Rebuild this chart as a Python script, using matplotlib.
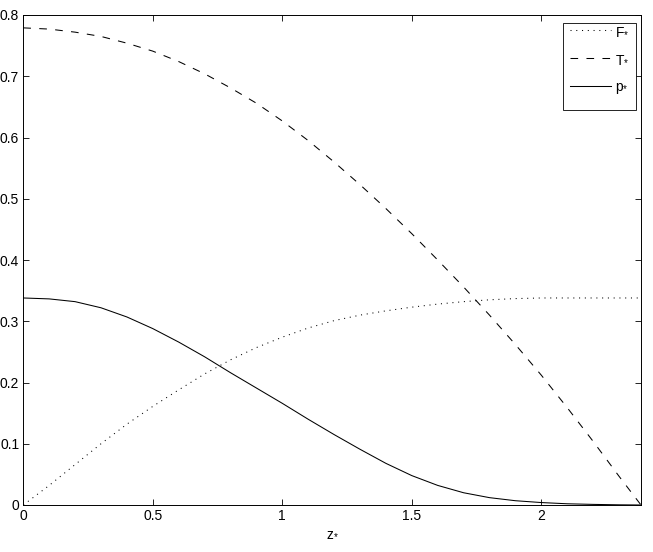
import matplotlib
matplotlib.use("Agg")
import matplotlib.pyplot as plt
from matplotlib.patches import Rectangle

plt.rcParams['font.family'] = ['Liberation Sans', 'DejaVu Sans']
plt.rcParams['mathtext.fontset'] = 'custom'
plt.rcParams['mathtext.rm'] = 'Liberation Sans'
plt.rcParams['mathtext.it'] = 'Liberation Sans'
plt.rcParams['lines.scale_dashes'] = False

z = [0.0, 0.1, 0.2, 0.3, 0.4, 0.5, 0.6, 0.7, 0.8, 0.9, 1.0, 1.1, 1.2, 1.3, 1.4,
     1.5, 1.6, 1.7, 1.8, 1.9, 2.0, 2.1, 2.2, 2.3, 2.385]
F = [0.0, 0.032, 0.066, 0.100, 0.132, 0.161, 0.188, 0.214, 0.237, 0.257, 0.274,
     0.289, 0.301, 0.310, 0.317, 0.323, 0.328, 0.332, 0.335, 0.337, 0.338, 0.338,
     0.338, 0.338, 0.338]
T = [0.779, 0.777, 0.772, 0.765, 0.754, 0.741, 0.724, 0.704, 0.681, 0.656, 0.627,
     0.595, 0.560, 0.523, 0.484, 0.443, 0.400, 0.356, 0.310, 0.262, 0.212, 0.159,
     0.104, 0.047, 0.0]
p = [0.338, 0.3365, 0.332, 0.322, 0.307, 0.288, 0.266, 0.242, 0.216, 0.191, 0.166,
     0.140, 0.115, 0.091, 0.068, 0.048, 0.032, 0.020, 0.012, 0.007, 0.004, 0.002,
     0.001, 0.0003, 0.0]

labels = ['F$_{*}$', 'T$_{*}$', 'p$_{*}$']
xticks = [0, 0.5, 1, 1.5, 2]
xticklabels = ['0', '0.5', '1', '1.5', '2']
yticks = [0, 0.1, 0.2, 0.3, 0.4, 0.5, 0.6, 0.7, 0.8]
yticklabels = ['0', '0.1', '0.2', '0.3', '0.4', '0.5', '0.6', '0.7', '0.8']

W, H = 653, 552
fig = plt.figure(figsize=(W / 100, H / 100), dpi=100)
L, R, B, Tp = 23.3, 641, 505, 15
ax = fig.add_axes([L / W, 1 - B / H, (R - L) / W, (B - Tp) / H])

lw = 0.75
l1, = ax.plot(z, F, color='black', lw=lw, linestyle=(0, (0.75, 3.4)))
l2, = ax.plot(z, T, color='black', lw=lw, linestyle=(0, (5.5, 6.0)))
l3, = ax.plot(z, p, color='black', lw=lw, linestyle='-')

ax.set_xlim(0, 2.385)
ax.set_ylim(0, 0.8)
ax.set_xticks(xticks)
ax.set_xticklabels(xticklabels)
ax.set_yticks(yticks)
ax.set_yticklabels(yticklabels)
ax.tick_params(direction='in', length=4.3, width=0.6, top=True, right=True,
               labelsize=10, pad=3, colors='black')
for s in ax.spines.values():
    s.set_linewidth(0.7)
ax.set_xlabel('z$_{*}$', fontsize=10, labelpad=2)

# legend box (MATLAB style, taller bottom padding)
x0, y0, x1, y1 = 563, 23, 636, 110
ax.add_patch(Rectangle((x0 / W, 1 - y1 / H), (x1 - x0) / W, (y1 - y0) / H,
                       transform=fig.transFigure, facecolor='white',
                       edgecolor='black', linewidth=0.6, zorder=4.5, clip_on=False))
leg = ax.legend([l1, l2, l3], labels, loc='upper left',
                bbox_to_anchor=(570 / W, 1 - 24 / H), bbox_transform=fig.transFigure,
                borderaxespad=0, frameon=False, fontsize=10,
                handlelength=2.95, handletextpad=0.3, labelspacing=1.0,
                borderpad=0.0)
leg.set_zorder(6)

fig.savefig('out.png', dpi=100)
